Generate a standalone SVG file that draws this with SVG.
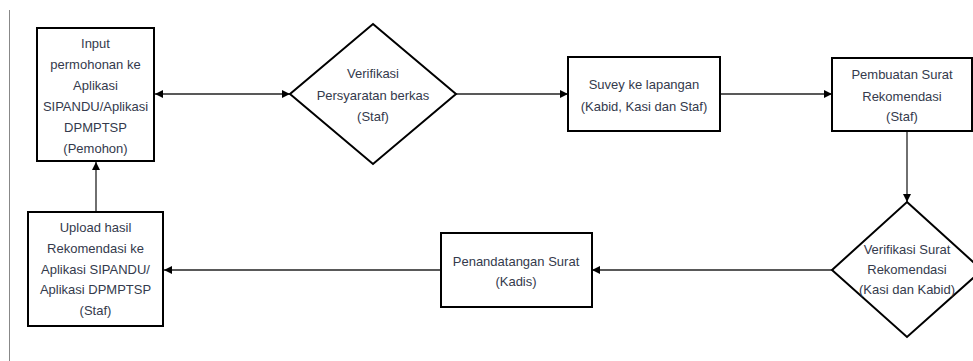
<svg xmlns="http://www.w3.org/2000/svg" width="973" height="361" viewBox="0 0 973 361">
<style>
.n{fill:#fff;stroke:#000;stroke-width:2}
.t{font-family:"Liberation Sans",Arial,sans-serif;font-size:13px;fill:#343a4c;text-anchor:middle}
.c{stroke:#222;stroke-width:1.3;fill:none}
</style>
<defs>
<marker id="ah" viewBox="0 0 10 10" refX="10" refY="5" markerWidth="8" markerHeight="8" markerUnits="userSpaceOnUse" orient="auto-start-reverse">
<path d="M0,0 L10,5 L0,10 Z" fill="#000"/>
</marker>
</defs>
<rect width="973" height="361" fill="#fff"/>
<line x1="9.5" y1="10" x2="9.5" y2="361" stroke="#888" stroke-width="1"/>
<g id="connectors">
<line class="c" x1="155" y1="94" x2="290" y2="94" marker-start="url(#ah)" marker-end="url(#ah)"/>
<line class="c" x1="456" y1="94" x2="568" y2="94" marker-end="url(#ah)"/>
<line class="c" x1="720" y1="94" x2="832" y2="94" marker-end="url(#ah)"/>
<line class="c" x1="907" y1="131" x2="907" y2="202" marker-end="url(#ah)"/>
<line class="c" x1="832" y1="270" x2="592" y2="270" marker-end="url(#ah)"/>
<line class="c" x1="441" y1="270" x2="164" y2="270" marker-end="url(#ah)"/>
<line class="c" x1="96" y1="212" x2="96" y2="162" marker-end="url(#ah)"/>
</g>
<g id="n1">
<rect class="n" x="37" y="28" width="117" height="133"/>
<text class="t" x="95.5" y="48">Input</text>
<text class="t" x="95.5" y="69">permohonan ke</text>
<text class="t" x="95.5" y="90">Aplikasi</text>
<text class="t" x="95.5" y="111">SIPANDU/Aplikasi</text>
<text class="t" x="95.5" y="132">DPMPTSP</text>
<text class="t" x="95.5" y="153">(Pemohon)</text>
</g>
<g id="n2">
<polygon class="n" points="373,24 456,94 373,164 290,94"/>
<text class="t" x="373" y="78">Verifikasi</text>
<text class="t" x="373" y="100">Persyaratan berkas</text>
<text class="t" x="373" y="121">(Staf)</text>
</g>
<g id="n3">
<rect class="n" x="568" y="57" width="152" height="74"/>
<text class="t" x="644" y="89">Suvey ke lapangan</text>
<text class="t" x="644" y="111">(Kabid, Kasi dan Staf)</text>
</g>
<g id="n4">
<rect class="n" x="832" y="58" width="140" height="73"/>
<text class="t" x="902" y="79">Pembuatan Surat</text>
<text class="t" x="902" y="101">Rekomendasi</text>
<text class="t" x="902" y="121">(Staf)</text>
</g>
<g id="n5">
<polygon class="n" points="907,202 982,270 907,337 832,270"/>
<text class="t" x="907" y="254">Verifikasi Surat</text>
<text class="t" x="907" y="274">Rekomendasi</text>
<text class="t" x="907" y="294">(Kasi dan Kabid)</text>
</g>
<g id="n6">
<rect class="n" x="441" y="233" width="151" height="74"/>
<text class="t" x="516" y="266">Penandatangan Surat</text>
<text class="t" x="516" y="286">(Kadis)</text>
</g>
<g id="n7">
<rect class="n" x="28" y="212" width="135" height="114"/>
<text class="t" x="95.5" y="232">Upload hasil</text>
<text class="t" x="95.5" y="253">Rekomendasi ke</text>
<text class="t" x="95.5" y="274">Aplikasi SIPANDU/</text>
<text class="t" x="95.5" y="294">Aplikasi DPMPTSP</text>
<text class="t" x="95.5" y="315">(Staf)</text>
</g>
</svg>
